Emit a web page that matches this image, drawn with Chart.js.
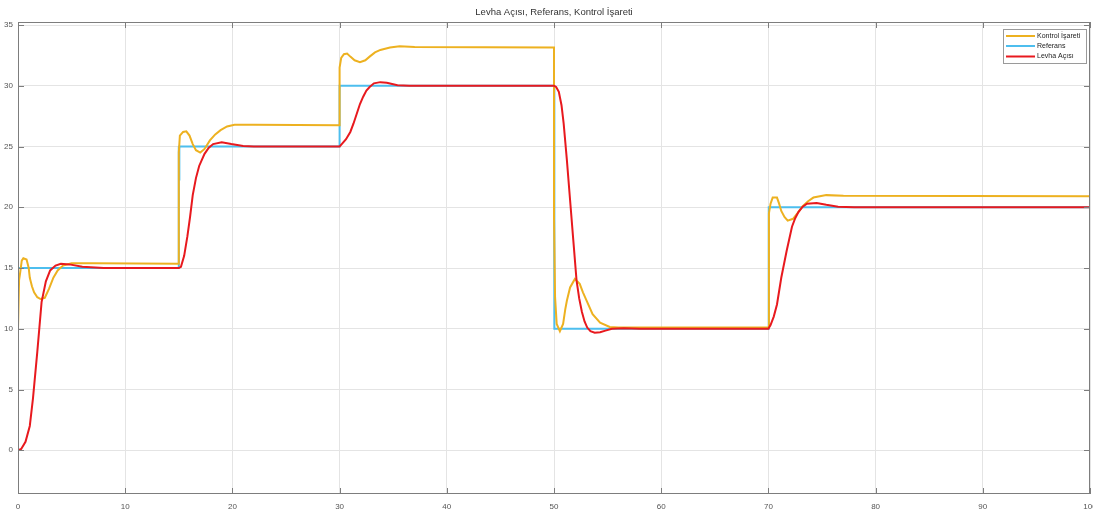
<!DOCTYPE html>
<html>
<head>
<meta charset="utf-8">
<script src="https://cdn.jsdelivr.net/npm/chart.js@4.4.0/dist/chart.umd.min.js"></script>
<style>
html,body{margin:0;padding:0;background:#fff;overflow:hidden;}
#wrap{width:1093px;height:511px;position:relative;}
</style>
</head>
<body>
<div id="wrap"><canvas id="c"></canvas></div>
<script>
// ---- data ----
const chartTitle = "Levha Açısı, Referans, Kontrol İşareti";
const seriesNames = ["Kontrol İşareti", "Referans", "Levha Açısı"];
const xTicks = [0,10,20,30,40,50,60,70,80,90,100];
const yTicks = [0,5,10,15,20,25,30,35];

// Kontrol İşareti (control signal)
const kontrolT = [0,0.05,0.1,0.2,0.35,0.5,0.8,1.0,1.1,1.3,1.5,1.8,2.1,2.5,2.9,3.3,3.7,4.2,5,7,15,
  15,15.1,15.4,15.7,16.0,16.3,16.6,17.0,17.4,17.9,18.4,18.9,19.5,20.2,22,30,
  30,30.15,30.4,30.7,31.0,31.4,31.9,32.4,32.8,33.3,33.8,34.7,35.6,37,50,
  50,50.1,50.25,50.55,50.85,51.05,51.2,51.5,51.95,52.4,52.7,53.05,53.6,54.3,55.2,56,70,
  70.05,70.2,70.4,70.8,71.0,71.2,71.5,71.8,72.3,72.7,73.2,73.7,74.2,75.4,77,100];
const kontrolV = [10,10,14.0,14.6,15.6,15.8,15.7,15.0,14.2,13.5,13.0,12.6,12.45,12.55,13.3,14.2,14.8,15.2,15.4,15.4,15.35,
  24.5,25.9,26.2,26.25,25.9,25.2,24.7,24.5,24.8,25.5,26.0,26.35,26.65,26.8,26.8,26.75,
  31.5,32.3,32.6,32.65,32.4,32.1,31.95,32.1,32.4,32.75,32.95,33.15,33.25,33.2,33.15,
  19.2,12.6,10.4,9.8,10.4,11.6,12.3,13.4,14.1,13.7,13.0,12.3,11.2,10.5,10.15,10.1,10.1,
  19.5,20.3,20.8,20.8,20.3,19.7,19.2,18.9,19.05,19.5,20.1,20.5,20.8,21.0,20.95,20.9];

// Referans (reference)
const referansT = [0,15,15,15.05,15.05,30,30,50,50,50.05,50.05,70,70,70.05,70.05,100];
const referansV = [15,15,25,22.2,25,25,30,30,10,19.2,10,10,20,16.8,20,20];

// Levha Açısı (plate angle)
const levhaT = [0,0.3,0.7,1.1,1.4,1.8,2.2,2.6,3.0,3.5,4.0,4.8,6,8,15,
  15.2,15.5,15.8,16.05,16.3,16.6,16.9,17.4,17.8,18.2,19,19.9,21,22,30,
  30.2,30.6,31,31.3,31.6,31.9,32.2,32.5,32.8,33.2,33.8,34.4,35.4,36.5,50,
  50.2,50.45,50.7,50.9,51.2,51.5,51.8,52.1,52.35,52.6,52.85,53.1,53.4,53.8,54.3,54.8,55.4,56.5,58,70,
  70.2,70.5,70.8,71.2,71.7,72.2,72.5,72.8,73.2,73.6,74.5,75.4,76.5,78,100];
const levhaV = [0,0.1,0.7,2.0,4.3,8.1,12.2,13.9,14.8,15.2,15.35,15.3,15.1,15.0,15.0,
  15.1,16.0,17.6,19.2,21.0,22.4,23.4,24.4,24.9,25.2,25.35,25.2,25.05,25.0,25.0,
  25.2,25.6,26.2,26.9,27.7,28.5,29.1,29.6,29.9,30.2,30.3,30.25,30.05,30.0,30.0,
  29.9,29.5,28.4,26.9,23.9,20.6,17.3,14.0,12.5,11.4,10.6,10.1,9.8,9.68,9.72,9.85,10.0,10.05,10.0,10.0,
  10.3,11.0,12.0,14.2,16.4,18.4,19.1,19.6,20.05,20.3,20.35,20.2,20.05,20.0,20.0];

const colors = {kontrol:'#EDB120', referans:'#4DBEEE', levha:'#E8191E'};

function pts(t, v){ return t.map((x,i)=>({x:x, y:v[i]})); }

const FONT = "'Liberation Sans', Arial, Helvetica, sans-serif";

const framePlugin = {
  id:'frame',
  beforeDraw(chart){
    const c = chart.ctx;
    c.save(); c.fillStyle='#fff'; c.fillRect(0,0,chart.width,chart.height); c.restore();
  },
  afterDraw(chart){
    const c = chart.ctx, a = chart.chartArea;
    const xs = chart.scales.x, ys = chart.scales.y;
    c.save();
    c.strokeStyle = '#7d7d7d'; c.lineWidth = 1;
    c.strokeRect(Math.round(a.left)+0.5, Math.round(a.top)+0.5, Math.round(a.right-a.left)-1, Math.round(a.bottom-a.top)-1);
    c.beginPath();
    yTicks.forEach(v=>{
      const y = Math.round(ys.getPixelForValue(v))+0.5;
      c.moveTo(a.left, y); c.lineTo(a.left+6, y);
      c.moveTo(a.right, y); c.lineTo(a.right-6, y);
    });
    xTicks.forEach(v=>{
      const x = Math.round(xs.getPixelForValue(v))+0.5;
      c.moveTo(x, a.bottom); c.lineTo(x, a.bottom-6);
      c.moveTo(x, a.top); c.lineTo(x, a.top+6);
    });
    c.stroke();
    c.fillStyle = '#333'; c.font = "9.5px " + FONT; c.textAlign='center'; c.textBaseline='middle';
    c.fillText(chartTitle, (a.left+a.right)/2, 12);
    const bx = 1003.5, by = 29.5, bw = 83, bh = 34;
    c.fillStyle = '#fff'; c.fillRect(bx, by, bw, bh);
    c.strokeStyle = '#9a9a9a'; c.strokeRect(bx, by, bw, bh);
    const lc = [colors.kontrol, colors.referans, colors.levha];
    const ly = [36, 46, 56.5];
    c.font = "7px " + FONT; c.textAlign='left'; c.textBaseline='middle';
    seriesNames.forEach((n,i)=>{
      c.strokeStyle = lc[i]; c.lineWidth = 2;
      c.beginPath(); c.moveTo(1006, ly[i]); c.lineTo(1035, ly[i]); c.stroke();
      c.fillStyle = '#222'; c.fillText(n, 1037, ly[i]);
    });
    c.restore();
  }
};

new Chart(document.getElementById('c'), {
  type:'line',
  data:{
    datasets:[
      {label:seriesNames[2], data:pts(levhaT, levhaV), borderColor:colors.levha, borderWidth:2, pointRadius:0, tension:0, fill:false},
      {label:seriesNames[0], data:pts(kontrolT, kontrolV), borderColor:colors.kontrol, borderWidth:2, pointRadius:0, tension:0, fill:false},
      {label:seriesNames[1], data:pts(referansT, referansV), borderColor:colors.referans, borderWidth:2, pointRadius:0, tension:0, fill:false}
    ]
  },
  options:{
    responsive:true, maintainAspectRatio:false, animation:false,
    layout:{padding:{top:22, right:3, left:0, bottom:0}},
    plugins:{legend:{display:false}, title:{display:false}, tooltip:{enabled:false}},
    scales:{
      x:{
        type:'linear', min:0, max:100,
        afterBuildTicks(s){ s.ticks = xTicks.map(v=>({value:v})); },
        afterFit(s){ s.height = 17; s.paddingLeft = 0; s.paddingRight = 0; },
        grid:{color:'#e4e4e4', drawTicks:false, lineWidth:1},
        border:{display:false},
        ticks:{padding:8, color:'#555', font:{size:8, family:FONT}, maxRotation:0, autoSkip:false}
      },
      y:{
        type:'linear', min:-3.6, max:35.25,
        afterBuildTicks(s){ s.ticks = yTicks.map(v=>({value:v})); },
        afterFit(s){ s.width = 18; s.paddingTop = 0; s.paddingBottom = 0; },
        grid:{color:'#e4e4e4', drawTicks:false, lineWidth:1},
        border:{display:false},
        ticks:{padding:5, color:'#555', font:{size:8, family:FONT}, autoSkip:false}
      }
    }
  },
  plugins:[framePlugin]
});
</script>
</body>
</html>
